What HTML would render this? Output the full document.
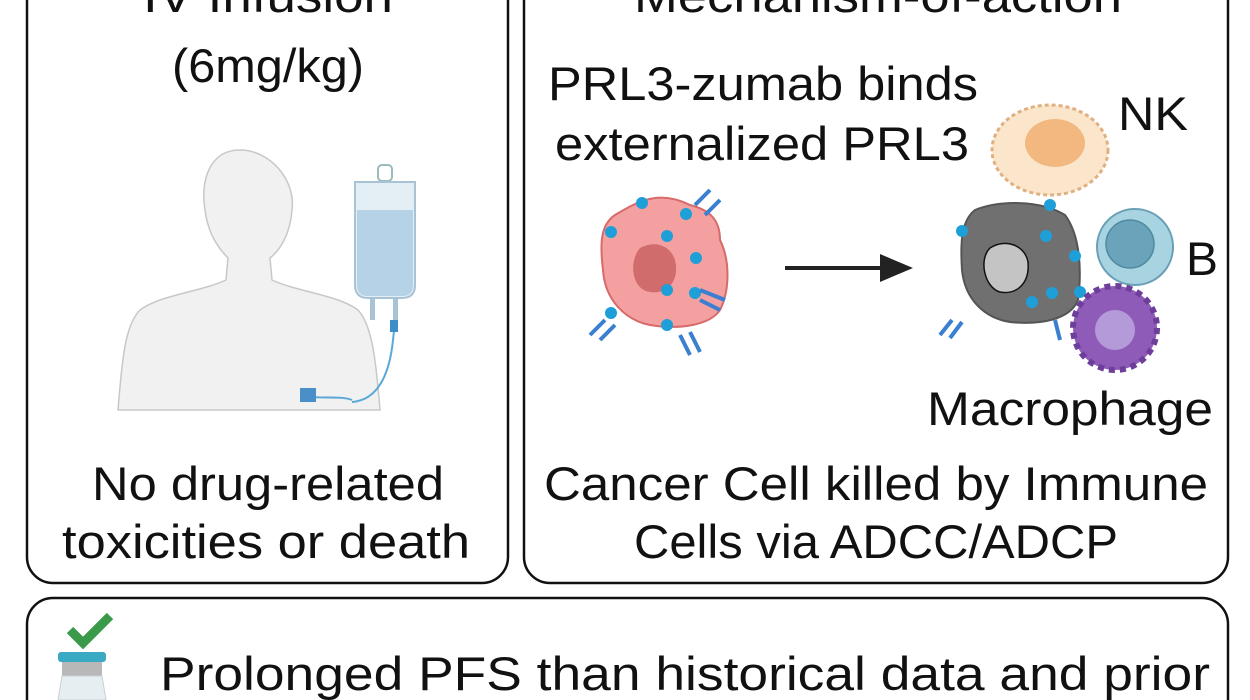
<!DOCTYPE html>
<html><head><meta charset="utf-8"><style>
html,body{margin:0;padding:0;background:#fff;width:1250px;height:700px;overflow:hidden;}
svg{display:block;}
text{font-family:"Liberation Sans",Arial,sans-serif;fill:#111;}
</style></head><body>
<svg width="1250" height="700" viewBox="0 0 1250 700" xmlns="http://www.w3.org/2000/svg">
<rect x="0" y="0" width="1250" height="700" fill="#fff"/>
<rect x="27" y="-40" width="481" height="623" rx="26" fill="none" stroke="#111" stroke-width="2.5"/>
<rect x="524" y="-40" width="704" height="623" rx="26" fill="none" stroke="#111" stroke-width="2.5"/>
<rect x="27" y="598" width="1201" height="160" rx="26" fill="none" stroke="#111" stroke-width="2.5"/>

<text x="268" y="12" font-size="47" text-anchor="middle" textLength="250" lengthAdjust="spacingAndGlyphs">IV Infusion</text>
<text x="268" y="82" font-size="47" text-anchor="middle" textLength="192" lengthAdjust="spacingAndGlyphs">(6mg/kg)</text>
<text x="268" y="500" font-size="47" text-anchor="middle" textLength="352" lengthAdjust="spacingAndGlyphs">No drug-related</text>
<text x="266" y="558" font-size="47" text-anchor="middle" textLength="408" lengthAdjust="spacingAndGlyphs">toxicities or death</text>

<path d="M240 150 C210 150 200 180 205 210 C208 235 220 250 228 258 L226 280 C200 292 160 295 140 310 C125 325 122 360 118 410 L380 410 C376 360 372 325 358 310 C338 295 298 292 272 280 L270 258 C280 250 290 235 292 210 C296 180 270 150 240 150 Z" fill="#f1f1f1" stroke="#c8c8c8" stroke-width="1.5"/>
<path d="M300 395 C320 400 340 395 352 400" stroke="#5aa8d8" stroke-width="2" fill="none"/>
<rect x="300" y="388" width="16" height="14" fill="#4a8fc8"/>
<rect x="378" y="165" width="14" height="16" rx="4" fill="none" stroke="#9bb" stroke-width="2"/>
<path d="M355 182 L415 182 L415 285 Q415 298 402 298 L368 298 Q355 298 355 285 Z" fill="#e4eef5" stroke="#a9c3d6" stroke-width="2"/>
<path d="M357 210 L413 210 L413 285 Q413 296 402 296 L368 296 Q357 296 357 285 Z" fill="#b6d2e6"/>
<rect x="370" y="298" width="5" height="22" fill="#a9c3d6"/><rect x="393" y="298" width="5" height="24" fill="#a9c3d6"/>
<path d="M395 322 L393 340 C390 370 380 400 352 402" stroke="#5aa8d8" stroke-width="2" fill="none"/>
<rect x="390" y="320" width="8" height="12" fill="#3a8fc8"/>

<text x="878" y="12" font-size="47" text-anchor="middle" textLength="488" lengthAdjust="spacingAndGlyphs">Mechanism-of-action</text>
<text x="763" y="100" font-size="47" text-anchor="middle" textLength="430" lengthAdjust="spacingAndGlyphs">PRL3-zumab binds</text>
<text x="762" y="160" font-size="47" text-anchor="middle" textLength="414" lengthAdjust="spacingAndGlyphs">externalized PRL3</text>
<text x="1118" y="130" font-size="47" textLength="70" lengthAdjust="spacingAndGlyphs">NK</text>
<text x="1186" y="275" font-size="47" textLength="32" lengthAdjust="spacingAndGlyphs">B</text>
<text x="927" y="425" font-size="47" textLength="286" lengthAdjust="spacingAndGlyphs">Macrophage</text>
<text x="876" y="500" font-size="47" text-anchor="middle" textLength="664" lengthAdjust="spacingAndGlyphs">Cancer Cell killed by Immune</text>
<text x="876" y="558" font-size="47" text-anchor="middle" textLength="484" lengthAdjust="spacingAndGlyphs">Cells via ADCC/ADCP</text>

<path d="M615 215 C640 200 660 190 690 205 C710 210 720 220 720 240 C730 260 730 290 720 310 C710 325 680 330 650 325 C625 320 605 300 603 270 C600 245 600 225 615 215 Z" fill="#f4a0a0" stroke="#d76a6a" stroke-width="2"/>
<path d="M640 248 C655 240 670 245 675 260 C680 280 668 295 650 292 C632 290 628 262 640 248 Z" fill="#d06c6c"/>
<g fill="#1e9fd8">
<circle cx="642" cy="203" r="6"/><circle cx="611" cy="232" r="6"/><circle cx="667" cy="236" r="6"/><circle cx="686" cy="214" r="6"/><circle cx="696" cy="258" r="6"/><circle cx="667" cy="290" r="6"/><circle cx="695" cy="293" r="6"/><circle cx="611" cy="313" r="6"/><circle cx="667" cy="325" r="6"/>
</g>
<g stroke="#3b7fd0" stroke-width="4" fill="none">
<path d="M695 205 L710 190 M705 215 L720 200"/><path d="M700 300 L720 310 M700 290 L725 300"/><path d="M605 320 L590 335 M615 325 L600 340"/><path d="M680 335 L690 355 M690 332 L700 352"/>
</g>
<line x1="785" y1="268" x2="885" y2="268" stroke="#222" stroke-width="4"/>
<polygon points="880,254 913,268 880,282" fill="#222"/>

<ellipse cx="1050" cy="150" rx="58" ry="45" fill="#fbe6cc" stroke="#e0b080" stroke-width="3" stroke-dasharray="4 3"/>
<ellipse cx="1055" cy="143" rx="30" ry="24" fill="#f2b880"/>
<path d="M975 210 C1000 200 1040 200 1065 215 C1080 235 1082 270 1078 300 C1070 320 1040 325 1010 322 C985 318 965 300 962 270 C960 240 962 220 975 210 Z" fill="#707070" stroke="#555" stroke-width="2"/>
<path d="M990 248 C1005 238 1025 245 1028 262 C1030 285 1015 295 1000 292 C985 288 978 260 990 248 Z" fill="#c4c4c4" stroke="#111" stroke-width="1.5"/>
<g fill="#1e9fd8"><circle cx="962" cy="231" r="6"/><circle cx="1046" cy="236" r="6"/><circle cx="1052" cy="293" r="6"/><circle cx="1075" cy="256" r="6"/><circle cx="1080" cy="292" r="6"/><circle cx="1032" cy="302" r="6"/><circle cx="1050" cy="205" r="6"/></g>
<g stroke="#3b7fd0" stroke-width="4" fill="none"><path d="M952 320 L940 335 M962 322 L950 338"/><path d="M1055 320 L1060 340"/></g>
<circle cx="1135" cy="247" r="38" fill="#a8d4e2" stroke="#6aa0b6" stroke-width="2"/>
<circle cx="1130" cy="244" r="24" fill="#6aa3ba" stroke="#4e8aa0" stroke-width="1.5"/>
<circle cx="1115" cy="328" r="42" fill="#8e5cb8" stroke="#6d3e9a" stroke-width="6" stroke-dasharray="6 5"/>
<circle cx="1115" cy="330" r="20" fill="#b49ad8"/>

<polyline points="70,630 83,643 110,616" fill="none" stroke="#3a9a4a" stroke-width="9"/>
<rect x="58" y="652" width="48" height="10" rx="3" fill="#3aaac4"/>
<rect x="62" y="662" width="40" height="14" fill="#b8b8b8"/>
<path d="M62 676 L102 676 L106 700 L58 700 Z" fill="#e6eef2" stroke="#c8d0d4"/>
<text x="160" y="690" font-size="47" textLength="1050" lengthAdjust="spacingAndGlyphs">Prolonged PFS than historical data and prior</text>
</svg>
</body></html>
